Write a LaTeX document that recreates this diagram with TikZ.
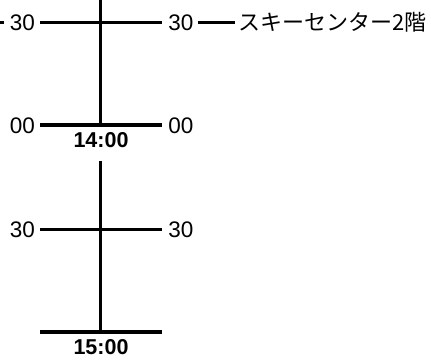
\documentclass[tikz,border=0pt]{standalone}
\usepackage{fontspec}
\setmainfont{Liberation Sans}
\newfontfamily\jpfont{Noto Sans CJK JP}
\begin{document}
\begin{tikzpicture}[x=1pt,y=1pt,
  thinline/.style={line width=3pt},
  heavyline/.style={line width=4pt},
  lbl/.style={inner sep=0pt, font=\fontsize{22.5}{27}\selectfont},
  hour/.style={inner sep=0pt, font=\fontsize{21.5}{26}\selectfont\bfseries},
  jp/.style={inner sep=0pt, anchor=west, font=\jpfont\fontsize{22}{27}\selectfont}]
\useasboundingbox (0,0) rectangle (431,361);
% coordinates
\coordinate (topEnd) at (100,361);
\coordinate (h14c) at (100,235.5);
\coordinate (lowStart) at (100,200);
\coordinate (h15c) at (100,28.5);
\coordinate (a30L) at (40,338.3);
\coordinate (a30R) at (162,338.3);
\coordinate (h14L) at (40,235.5);
\coordinate (h14R) at (162,235.5);
\coordinate (b30L) at (40,131);
\coordinate (b30R) at (162,131);
\coordinate (h15L) at (40,28.5);
\coordinate (h15R) at (162,28.5);
\coordinate (dashA) at (0,338.3);
\coordinate (dashB) at (3.5,338.3);
\coordinate (rA) at (197.5,338.3);
\coordinate (rB) at (235,338.3);
% labels
\node[lbl] (l30a) at (22.5,338.3) {30};
\node[lbl] (r30a) at (181,338.3) {30};
\node[lbl] (l00) at (22.5,235.5) {00};
\node[lbl] (r00) at (181,235.5) {00};
\node[lbl] (l30b) at (22.5,131) {30};
\node[lbl] (r30b) at (181,131) {30};
\node[hour] (t14) at (101,220.7) {14:00};
\node[hour] (t15) at (101,14) {15:00};
\node[jp] (ski) at (238.5,338.3) {スキーセンター2階};
% lines
\draw[thinline] (topEnd) -- (h14c);
\draw[thinline] (lowStart) -- (h15c);
\draw[thinline] (a30L) -- (a30R);
\draw[thinline] (b30L) -- (b30R);
\draw[thinline] (dashA) -- (dashB);
\draw[thinline] (rA) -- (rB);
\draw[heavyline] (h14L) -- (h14R);
\draw[heavyline] (h15L) -- (h15R);
\end{tikzpicture}
\end{document}
